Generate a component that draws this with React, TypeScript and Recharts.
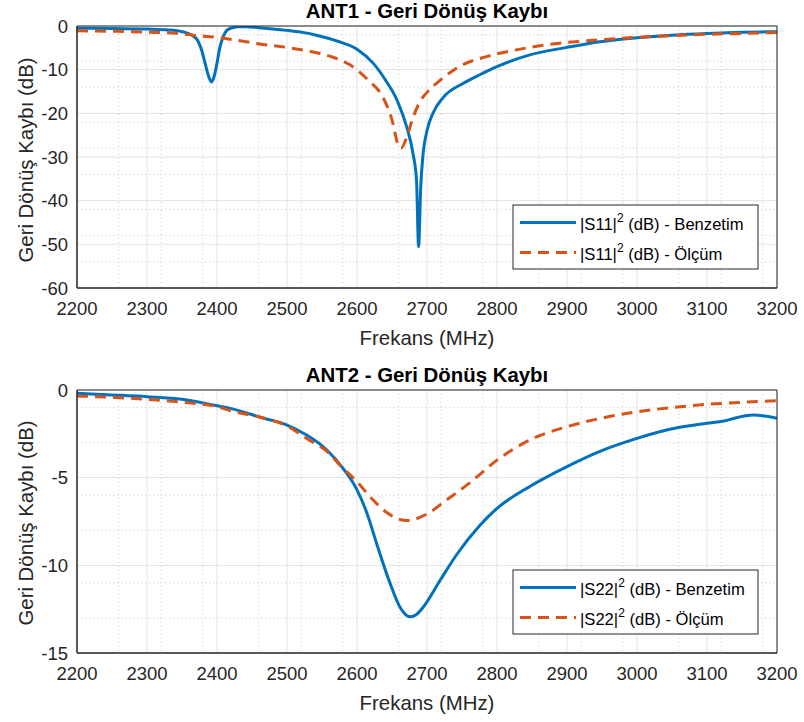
import { CartesianGrid, Line, LineChart, XAxis, YAxis } from "recharts";

const FONT = "'Liberation Sans', Arial, Helvetica, sans-serif";
const AX = "#262626";
const BLUE = "#0072BD";
const ORANGE = "#D95319";
const DASH = "11 7";

const FREQ_TICKS = [2200, 2300, 2400, 2500, 2600, 2700, 2800, 2900, 3000, 3100, 3200];
const S11_TICKS = [-60, -50, -40, -30, -20, -10, 0];
const S22_TICKS = [-15, -10, -5, 0];

// minor grid positions (MATLAB style dotted grid)
const FREQ_MINOR: number[] = [];
for (let f = 2200; f <= 3200; f += 20) if (f % 100 !== 0) FREQ_MINOR.push(f);
const S11_MINOR: number[] = [];
for (let v = -60; v <= 0; v += 2) if (v % 10 !== 0) S11_MINOR.push(v);
const S22_MINOR: number[] = [];
for (let v = -15; v <= 0; v += 1) if (v % 5 !== 0) S22_MINOR.push(v);

// ANT1 - |S11|^2 simulated
const S11_SIM_F = [
  2200, 2250, 2300, 2330, 2350, 2365, 2372, 2378, 2383, 2388, 2392, 2396, 2400, 2404,
  2409, 2414, 2420, 2430, 2442, 2460, 2480, 2500, 2520, 2542, 2571, 2600, 2623, 2642,
  2657, 2671, 2680, 2685, 2688, 2691, 2694, 2700, 2709, 2723, 2752, 2776, 2800, 2847,
  2900, 2947, 3000, 3050, 3100, 3150, 3200,
];
const S11_SIM_DB = [
  -0.5, -0.55, -0.7, -0.9, -1.3, -2.2, -3.2, -5.5, -8.5, -11.5, -12.8, -11.5, -8.5, -5,
  -2.4, -1, -0.5, -0.2, -0.15, -0.4, -0.7, -1.0, -1.4, -2.1, -3.4, -5.3, -8.5, -12.7,
  -16.9, -23.1, -29.2, -35.3, -50.5, -37, -30, -24, -19.8, -16.4, -13.1, -11.1, -9.3, -6.6,
  -4.9, -3.6, -2.7, -2.1, -1.7, -1.45, -1.3,
];

// ANT1 - |S11|^2 measured
const S11_MEAS_F = [
  2200, 2250, 2300, 2350, 2366, 2400, 2433, 2461, 2500, 2530, 2561, 2590, 2616, 2638,
  2650, 2659, 2663, 2671, 2680, 2690, 2700, 2719, 2747, 2785, 2833, 2880, 2928, 3000,
  3050, 3100, 3150, 3200,
];
const S11_MEAS_DB = [
  -1.1, -1.2, -1.4, -1.8, -2.1, -2.6, -3.4, -4.1, -4.9, -5.7, -6.9, -8.9, -12.4, -16.6,
  -21.5, -27.3, -28, -25.5, -21, -17.3, -15.2, -12.4, -9.2, -7.0, -5.3, -4.1, -3.4, -2.6,
  -2.2, -1.9, -1.7, -1.5,
];

// ANT2 - |S22|^2 simulated
const S22_SIM_F = [
  2200, 2250, 2300, 2350, 2400, 2419, 2466, 2500, 2528, 2557, 2580, 2600, 2614, 2628,
  2647, 2661, 2676, 2685, 2695, 2719, 2742, 2776, 2800, 2847, 2900, 2947, 3000, 3052,
  3100, 3124, 3145, 3166, 3185, 3200,
];
const S22_SIM_DB = [
  -0.19, -0.28, -0.38, -0.53, -0.9, -1.05, -1.6, -2.0, -2.57, -3.42, -4.47, -5.7, -7.0, -8.75,
  -11.0, -12.36, -12.93, -12.8, -12.36, -10.84, -9.41, -7.7, -6.75, -5.5, -4.37, -3.5, -2.76, -2.2,
  -1.9, -1.77, -1.55, -1.43, -1.5, -1.62,
];

// ANT2 - |S22|^2 measured
const S22_MEAS_F = [
  2200, 2250, 2300, 2350, 2400, 2419, 2466, 2500, 2528, 2557, 2580, 2600, 2619, 2643,
  2671, 2700, 2728, 2761, 2800, 2847, 2900, 2950, 3000, 3050, 3100, 3150, 3200,
];
const S22_MEAS_DB = [
  -0.34, -0.42, -0.53, -0.7, -0.95, -1.18, -1.6, -2.05, -2.76, -3.5, -4.47, -5.23, -6.1, -7.0,
  -7.45, -7.07, -6.27, -5.3, -4.0, -2.85, -2.09, -1.6, -1.24, -1.0, -0.82, -0.7, -0.61,
];

const zip = (f: number[], v: number[]) => f.map((x, i) => ({ f: x, v: v[i] }));

function Panel({
  sim,
  meas,
  yTicks,
  yMinor,
  height,
  marginTop,
  marginBottom,
}: {
  sim: { f: number; v: number }[];
  meas: { f: number; v: number }[];
  yTicks: number[];
  yMinor: number[];
  height: number;
  marginTop: number;
  marginBottom: number;
}) {
  const yDomain = [yTicks[0], yTicks[yTicks.length - 1]];
  const tickStyle = { fill: AX, fontSize: 18.5, fontFamily: FONT };
  return (
    <LineChart
      width={804}
      height={height}
      margin={{ top: marginTop, right: 27, left: 7, bottom: marginBottom }}
      style={{ background: "#fff" }}
    >
      <CartesianGrid
        verticalValues={FREQ_MINOR}
        horizontalValues={yMinor}
        stroke="#c9c9c9"
        strokeDasharray="1 3"
      />
      <CartesianGrid verticalValues={FREQ_TICKS} horizontalValues={yTicks} stroke="#e2e2e2" />
      <XAxis
        dataKey="f"
        type="number"
        domain={[2200, 3200]}
        ticks={FREQ_TICKS}
        allowDataOverflow
        height={40}
        tickSize={0}
        tickMargin={14}
        tickLine={false}
        axisLine={{ stroke: AX }}
        tick={tickStyle}
      />
      <XAxis
        xAxisId="bm"
        orientation="bottom"
        mirror
        type="number"
        domain={[2200, 3200]}
        ticks={FREQ_TICKS}
        tick={false}
        tickSize={7}
        tickLine={{ stroke: AX }}
        axisLine={{ stroke: AX }}
      />
      <XAxis
        xAxisId="tm"
        orientation="top"
        mirror
        type="number"
        domain={[2200, 3200]}
        ticks={FREQ_TICKS}
        tick={false}
        tickSize={7}
        tickLine={{ stroke: AX }}
        axisLine={{ stroke: AX }}
      />
      <YAxis
        type="number"
        domain={yDomain}
        ticks={yTicks}
        allowDataOverflow
        width={70}
        tickSize={0}
        tickMargin={9}
        tickLine={false}
        axisLine={{ stroke: AX }}
        tick={tickStyle}
      />
      <YAxis
        yAxisId="lm"
        orientation="left"
        mirror
        type="number"
        domain={yDomain}
        ticks={yTicks}
        tick={false}
        tickSize={7}
        tickLine={{ stroke: AX }}
        axisLine={{ stroke: AX }}
      />
      <YAxis
        yAxisId="rm"
        orientation="right"
        mirror
        type="number"
        domain={yDomain}
        ticks={yTicks}
        tick={false}
        tickSize={7}
        tickLine={{ stroke: AX }}
        axisLine={{ stroke: AX }}
      />
      <Line
        data={sim}
        dataKey="v"
        type="monotone"
        stroke={BLUE}
        strokeWidth={3}
        dot={false}
        isAnimationActive={false}
      />
      <Line
        data={meas}
        dataKey="v"
        type="monotone"
        stroke={ORANGE}
        strokeWidth={3}
        strokeDasharray={DASH}
        dot={false}
        isAnimationActive={false}
      />
    </LineChart>
  );
}

function LegendBox({ x, y, name }: { x: number; y: number; name: string }) {
  return (
    <g fontFamily={FONT} fontSize={16.6} fill="#000">
      <rect x={x} y={y} width={245} height={64} fill="#fff" stroke={AX} strokeWidth={1} />
      <line x1={x + 7} x2={x + 63} y1={y + 17.5} y2={y + 17.5} stroke={BLUE} strokeWidth={3} />
      <line
        x1={x + 7}
        x2={x + 63}
        y1={y + 47.5}
        y2={y + 47.5}
        stroke={ORANGE}
        strokeWidth={3}
        strokeDasharray={DASH}
      />
      <text x={x + 67} y={y + 25}>
        |{name}|<tspan fontSize={12} dy={-8}>2</tspan>
        <tspan dy={8}> (dB) - Benzetim</tspan>
      </text>
      <text x={x + 67} y={y + 55}>
        |{name}|<tspan fontSize={12} dy={-8}>2</tspan>
        <tspan dy={8}> (dB) - Ölçüm</tspan>
      </text>
    </g>
  );
}

export default function App() {
  return (
    <div style={{ position: "absolute", left: 0, top: 0, width: 804, height: 722, background: "#fff" }}>
      <div style={{ position: "absolute", left: 0, top: 0 }}>
        <Panel
          sim={zip(S11_SIM_F, S11_SIM_DB)}
          meas={zip(S11_MEAS_F, S11_MEAS_DB)}
          yTicks={S11_TICKS}
          yMinor={S11_MINOR}
          height={360}
          marginTop={26}
          marginBottom={32}
        />
      </div>
      <div style={{ position: "absolute", left: 0, top: 360 }}>
        <Panel
          sim={zip(S22_SIM_F, S22_SIM_DB)}
          meas={zip(S22_MEAS_F, S22_MEAS_DB)}
          yTicks={S22_TICKS}
          yMinor={S22_MINOR}
          height={362}
          marginTop={30}
          marginBottom={29}
        />
      </div>
      <svg
        width={804}
        height={722}
        style={{ position: "absolute", left: 0, top: 0, pointerEvents: "none" }}
      >
        <g fontFamily={FONT} fill="#000" textAnchor="middle">
          <text x={427} y={17.5} fontSize={20.4} fontWeight="bold">
            ANT1 - Geri Dönüş Kaybı
          </text>
          <text x={427} y={381.5} fontSize={20.4} fontWeight="bold">
            ANT2 - Geri Dönüş Kaybı
          </text>
          <text x={427} y={345} fontSize={20.4} fill={AX}>
            Frekans (MHz)
          </text>
          <text x={427} y={710} fontSize={20.4} fill={AX}>
            Frekans (MHz)
          </text>
          <text x={33} y={160} fontSize={20.4} fill={AX} transform="rotate(-90 33 160)">
            Geri Dönüş Kaybı (dB)
          </text>
          <text x={33} y={523} fontSize={20.4} fill={AX} transform="rotate(-90 33 523)">
            Geri Dönüş Kaybı (dB)
          </text>
        </g>
        <LegendBox x={513} y={205} name="S11" />
        <LegendBox x={513} y={570} name="S22" />
      </svg>
    </div>
  );
}
